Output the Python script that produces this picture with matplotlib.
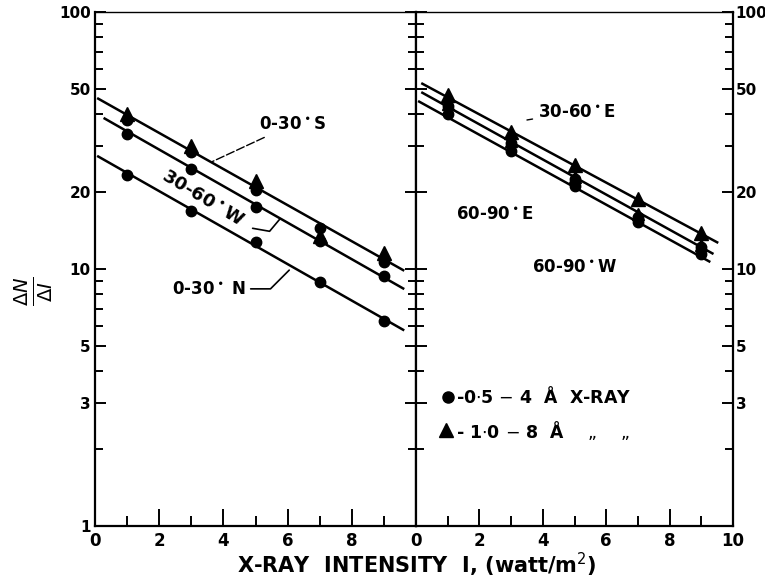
import matplotlib.pyplot as plt
from matplotlib.ticker import FixedLocator, FixedFormatter, NullFormatter

plt.rcParams['font.family'] = ['DejaVu Sans']

# x-ray intensity (watt/m^2) where points were measured
intensity = [1, 3, 5, 7, 9]

# left panel
south_dot = [38, 28.5, 20.3, 14.5, 10.6]
south_tri_x = [1, 3, 5, 9]
south_tri = [40, 30, 22, 11.5]
west_dot = [33.5, 24.5, 17.5, 12.8, 9.4]
west_tri_x = [7]
west_tri = [13.4]
north_dot = [23.3, 16.8, 12.7, 8.9, 6.3]

south_line_x = [0.1, 9.6]
south_line = [46, 9.9]
west_line_x = [0.3, 9.6]
west_line = [38.5, 8.4]
north_line_x = [0.1, 9.6]
north_line = [27.4, 5.8]

# right panel
east30_tri = [47.5, 34, 25.5, 18.7, 13.8]
east60_tri = [44, 31.5, 22.7, 16.3, 12.4]
east60_dot = [43, 31, 22.3, 16.0, 12.2]
west60_dot = [40, 28.7, 21, 15.2, 11.4]

east30_line_x = [0.2, 9.5]
east30_line = [52.6, 12.7]
east60_line_x = [0.2, 9.35]
east60_line = [48.5, 11.5]
west60_line_x = [0.1, 9.25]
west60_line = [44.8, 10.7]

y_major = [1, 3, 5, 10, 20, 50, 100]
y_labels = ['1', '3', '5', '10', '20', '50', '100']
y_minor = [2, 4, 6, 7, 8, 9, 30, 40, 60, 70, 80, 90]

fig = plt.figure(figsize=(7.65, 5.82), dpi=100)
ax1 = fig.add_axes([0.1242, 0.0962, 0.4196, 0.8832])
ax2 = fig.add_axes([0.5438, 0.0962, 0.4144, 0.8832])

for ax in (ax1, ax2):
    ax.set_yscale('log')
    ax.set_ylim(1, 100)
    ax.set_xlim(0, 10)
    ax.yaxis.set_major_locator(FixedLocator(y_major))
    ax.yaxis.set_minor_locator(FixedLocator(y_minor))
    ax.yaxis.set_minor_formatter(NullFormatter())
    ax.xaxis.set_minor_locator(FixedLocator([1, 3, 5, 7, 9]))
    ax.tick_params(which='both', direction='in', width=1.4, top=False)
    ax.tick_params(axis='y', which='major', length=8, left=True, right=True)
    ax.tick_params(axis='y', which='minor', length=6, left=True, right=True)
    ax.tick_params(axis='x', which='major', length=12, labelsize=12, pad=4)
    ax.tick_params(axis='x', which='minor', length=7)
    for sp in ax.spines.values():
        sp.set_linewidth(1.6)
    ax.spines['top'].set_linewidth(1.0)

ax1.xaxis.set_major_locator(FixedLocator([0, 2, 4, 6, 8]))
ax1.yaxis.set_major_formatter(FixedFormatter(y_labels))
ax1.tick_params(axis='y', labelsize=11, labelleft=True, labelright=False, pad=3)

ax2.xaxis.set_major_locator(FixedLocator([0, 2, 4, 6, 8, 10]))
ax2.yaxis.set_major_formatter(FixedFormatter([''] + y_labels[1:]))
ax2.tick_params(axis='y', labelsize=11, labelleft=False, labelright=True, pad=2)

for ax in (ax1, ax2):
    for lab in ax.get_xticklabels() + ax.get_yticklabels():
        lab.set_fontweight('bold')

lc = 'black'
lw = 1.8
# left panel lines and points
ax1.plot(south_line_x, south_line, color=lc, lw=lw)
ax1.plot(west_line_x, west_line, color=lc, lw=lw)
ax1.plot(north_line_x, north_line, color=lc, lw=lw)
ax1.plot(intensity, south_dot, 'o', color=lc, ms=7.5)
ax1.plot(south_tri_x, south_tri, '^', color=lc, ms=9.5)
ax1.plot(intensity, west_dot, 'o', color=lc, ms=7.5)
ax1.plot(west_tri_x, west_tri, '^', color=lc, ms=9.5)
ax1.plot(intensity, north_dot, 'o', color=lc, ms=7.5)

# right panel lines and points
ax2.plot(east30_line_x, east30_line, color=lc, lw=lw)
ax2.plot(east60_line_x, east60_line, color=lc, lw=lw)
ax2.plot(west60_line_x, west60_line, color=lc, lw=lw)
ax2.plot(intensity, east30_tri, '^', color=lc, ms=9.5)
ax2.plot(intensity, east60_dot, 'o', color=lc, ms=7.5)
ax2.plot(intensity, east60_tri, '^', color=lc, ms=9)
ax2.plot(intensity, west60_dot, 'o', color=lc, ms=7.5)

# curve labels
tkw = dict(fontsize=12, color=lc, fontweight='bold')
ax1.annotate('0-30$^\\bullet$S', xy=(3.66, 26.2), xytext=(5.1, 36.5),
             va='center', ha='left',
             arrowprops=dict(arrowstyle='-', lw=1, ls=(0, (6, 2)), color=lc,
                             shrinkA=2, shrinkB=0), **tkw)
ax1.text(3.35, 18.7, '30-60$^\\bullet$W', rotation=-31, ha='center', va='center',
         fontsize=13, color=lc, fontweight='bold')
ax1.annotate('', xy=(5.75, 15.6), xytext=(4.91, 14.4),
             arrowprops=dict(arrowstyle='-', lw=1.2, color=lc,
                             connectionstyle='angle,angleA=-10,angleB=50,rad=0',
                             shrinkA=0, shrinkB=0))
ax1.annotate('0-30$^\\bullet$ N', xy=(6.05, 9.9), xytext=(4.72, 8.37),
             va='center', ha='right',
             arrowprops=dict(arrowstyle='-', lw=1.2, color=lc,
                             connectionstyle='angle,angleA=0,angleB=45,rad=0',
                             shrinkA=1, shrinkB=0), **tkw)

ax2.annotate('30-60$^\\bullet$E', xy=(3.5, 38.0), xytext=(3.85, 41),
             va='center', ha='left',
             arrowprops=dict(arrowstyle='-', lw=1, color=lc, shrinkA=2, shrinkB=0),
             **tkw)
ax2.text(1.25, 16.3, '60-90$^\\bullet$E', ha='left', va='center', **tkw)
ax2.text(3.65, 10.2, '60-90$^\\bullet$W', ha='left', va='center', **tkw)

# symbol key
ax2.plot([1.0], [3.19], 'o', color=lc, ms=8)
ax2.text(1.25, 3.19, '-0$\\cdot$5 $-$ 4  Å  X-RAY', ha='left', va='center',
         fontsize=12.5, fontweight='bold', color=lc)
ax2.plot([0.95], [2.36], '^', color=lc, ms=10)
ax2.text(1.25, 2.36, '- 1$\\cdot$0 $-$ 8  Å    „    „', ha='left', va='center',
         fontsize=12.5, fontweight='bold', color=lc)

fig.text(0.545, 0.029, 'X-RAY  INTENSITY  I, (watt/m$^2$)', ha='center',
         va='center', fontsize=15, fontweight='bold')
fig.text(0.045, 0.5, '$\\frac{\\Delta N}{\\Delta I}$', rotation=90, ha='center',
         va='center', fontsize=20)

fig.savefig('out.png', dpi=100)
